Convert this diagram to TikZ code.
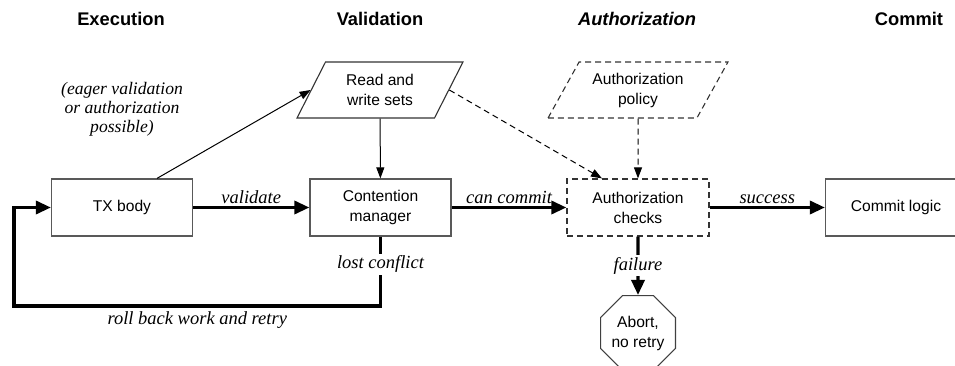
\documentclass[tikz,border=0pt]{standalone}
\usepackage{fontspec}
\setmainfont{Liberation Serif}
\setsansfont{Liberation Sans}
\usepackage{tikz}
\usetikzlibrary{shapes.geometric, arrows.meta, positioning}

\begin{document}
\begin{tikzpicture}[
    x=1pt, y=-1pt,
    stage/.style = {font=\sffamily\bfseries\fontsize{18.3}{22}\selectfont},
    procbox/.style = {rectangle, draw=black!65, line width=1.2pt, minimum width=141pt, minimum height=57pt, align=center, font=\sffamily\fontsize{15.6}{20}\selectfont},
    dashbox/.style = {procbox, draw=black!80, dash pattern=on 6pt off 4pt},
    dataset/.style = {trapezium, trapezium stretches=true, draw=black!80, line width=1.1pt, minimum height=56pt, align=center, font=\sffamily\fontsize{15.6}{20}\selectfont},
    stopnode/.style = {regular polygon, regular polygon sides=8, draw=black!75, line width=1.2pt, minimum size=79pt, inner sep=0pt, align=center, font=\sffamily\fontsize{15.6}{20}\selectfont},
    lbl/.style = {font=\itshape\fontsize{18.5}{20}\selectfont, inner sep=2pt},
    flow/.style = {line width=3.3pt, -{Triangle[length=15pt, width=13pt]}},
    feed/.style = {line width=1pt, -{Triangle[length=11pt, width=8pt]}},
    maybe/.style = {feed, dash pattern=on 6pt off 4pt}
]
\useasboundingbox (0,0) rectangle (955,366);

% phase headings
\node [stage] (hexec) at (121, 19) {Execution};
\node [stage] (hval) at (380, 19) {Validation};
\node [stage, font=\sffamily\bfseries\itshape\fontsize{18.3}{22}\selectfont] (hauth) at (637, 19) {Authorization};
\node [stage] (hcommit) at (909, 19) {Commit};

% main row
\node [procbox] (tx) at (122, 207.5) {TX body};
\node [procbox] (cm) at (380.5, 207.5) {Contention\\manager};
\node [dashbox, minimum width=142pt] (ac) at (638, 207.5) {Authorization\\checks};
\node [procbox] (cl) at (896, 207.5) {Commit logic};

% inputs
\node [dataset, minimum width=166pt, trapezium left angle=63, trapezium right angle=117] (rw) at (380, 90) {Read and\\write sets};
\node [dataset, dash pattern=on 6pt off 4pt, minimum width=180pt, trapezium left angle=58, trapezium right angle=122] (ap) at (638, 90) {Authorization\\policy};

\node [stopnode] (abort) at (638, 333) {Abort,\\no retry};

\node [lbl, align=center, font=\itshape\fontsize{17.6}{19}\selectfont] (eager) at (122, 109) {(eager validation\\or authorization\\possible)};

\coordinate (back) at (14, 306);

\draw[feed] ([xshift=35pt]tx.north) -- (rw.west);
\draw[feed] (rw) -- (cm);
\draw[maybe] (rw.east) -- ([xshift=-36pt]ac.north);
\draw[maybe] (ap) -- (ac);

\draw[flow] (tx) -- node[midway, above, lbl] {validate} (cm);
\draw[flow] (cm) -- node[midway, above, lbl] {can commit} (ac);
\draw[flow] (ac) -- node[midway, above, lbl] {success} (cl);
\draw[flow] (ac) -- node[midway, lbl, fill=white] {failure} (abort);

\draw[flow] (cm.south) -- node[pos=0.4, lbl, fill=white] {lost conflict} (cm.south |- back)
    -- node[midway, below, lbl, yshift=-2pt] {roll back work and retry} (back)
    -- (back |- tx.west) -- (tx.west);

\end{tikzpicture}
\end{document}
